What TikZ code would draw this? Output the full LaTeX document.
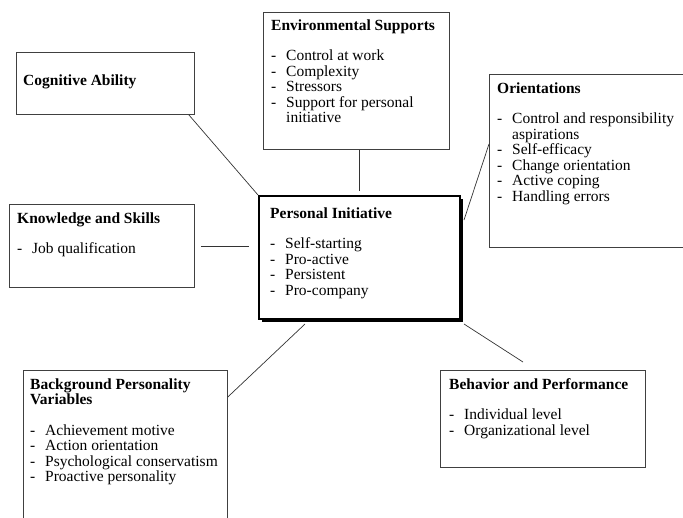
\documentclass[tikz,border=0pt]{standalone}
\usepackage{fontspec}
\setmainfont{Liberation Serif}
\usetikzlibrary{calc,shadows}

\newcommand{\dashitem}[1]{\makebox[15pt][l]{-}#1}

\tikzset{
  box/.style={draw=black!75, line width=0.8pt, rectangle, anchor=north west, inner sep=0pt},
  % text blocks sit on the baseline of their last line
  txt/.style={anchor=base west, inner sep=0pt, align=left, font=\fontsize{15.5}{15.5}\selectfont},
  link/.style={draw=black!80, line width=0.7pt}
}

\begin{document}
\begin{tikzpicture}[x=1pt,y=-1pt]
\useasboundingbox (0,0) rectangle (683,517);
\clip (0,0) rectangle (683,517);

\node[box, minimum width=178pt, minimum height=62pt] (cog) at (16,52) {};
\node[box, minimum width=186pt, minimum height=137pt] (env) at (263,12) {};
\node[box, minimum width=220pt, minimum height=173pt] (ori) at (489,74) {};
\node[box, minimum width=185pt, minimum height=83pt] (kns) at (9,204) {};
\node[box, minimum width=204pt, minimum height=170pt] (bg) at (23,370) {};
\node[box, minimum width=205pt, minimum height=97pt] (beh) at (440,370) {};
\node[box, draw=black, line width=2pt, fill=white, minimum width=201pt, minimum height=123pt,
  drop shadow={shadow xshift=2.5pt, shadow yshift=-2.5pt, fill=black, opacity=1}] (pi) at (258,195) {};

\node[txt] (cogt) at (23,85) {\textbf{Cognitive Ability}};
\node[txt] (envt) at (271,122.5) {\textbf{Environmental Supports}\\[15pt]
  \dashitem{Control at work}\\
  \dashitem{Complexity}\\
  \dashitem{Stressors}\\
  \dashitem{Support for personal}\\
  \hspace*{15pt}initiative};
\node[txt] (orit) at (497,201) {\textbf{Orientations}\\[15pt]
  \dashitem{Control and responsibility}\\
  \hspace*{15pt}aspirations\\
  \dashitem{Self-efficacy}\\
  \dashitem{Change orientation}\\
  \dashitem{Active coping}\\
  \dashitem{Handling errors}};
\node[txt] (knst) at (17,253.5) {\textbf{Knowledge and Skills}\\[15pt]
  \dashitem{Job qualification}};
\node[txt] (pit) at (270,295) {\textbf{Personal Initiative}\\[15pt]
  \dashitem{Self-starting}\\
  \dashitem{Pro-active}\\
  \dashitem{Persistent}\\
  \dashitem{Pro-company}};
\node[txt] (bgt) at (30,481.5) {\textbf{Background Personality}\\
  \textbf{Variables}\\[15pt]
  \dashitem{Achievement motive}\\
  \dashitem{Action orientation}\\
  \dashitem{Psychological conservatism}\\
  \dashitem{Proactive personality}};
\node[txt] (beht) at (449,435) {\textbf{Behavior and Performance}\\[15pt]
  \dashitem{Individual level}\\
  \dashitem{Organizational level}};

\path[link] ($(cog.south east)+(-6,0)$) -- (pi.north west);
\path[link, shorten >=4pt] (pi.north |- env.south) -- (pi.north);
\path[link] ($(ori.north west)+(0,70)$) -- ($(pi.north east)+(3,25)$);
\path[link, shorten <=6pt, shorten >=9pt] (kns.east) -- (kns.east -| pi.west);
\path[link] ($(bg.north east)+(0,27)$) -- ($(pi.south west)+(47,4)$);
\path[link] ($(pi.south east)+(3,4)$) -- ($(beh.north west)+(83,-8)$);
\end{tikzpicture}
\end{document}
